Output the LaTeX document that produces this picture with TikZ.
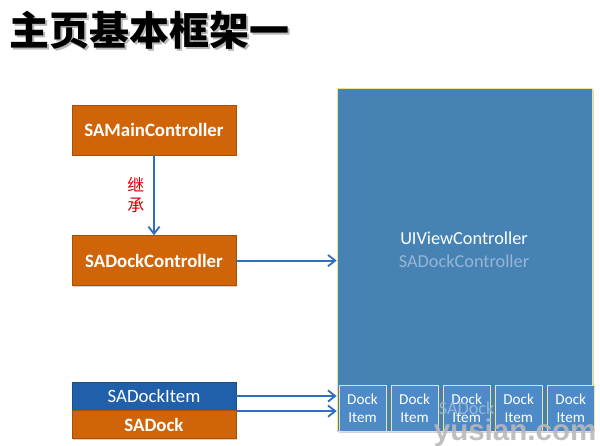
\documentclass[tikz,border=0pt]{standalone}
\usepackage{fontspec}
\setmainfont{Carlito}
\newfontfamily\cjk{Noto Sans CJK SC}
\newfontfamily\wmfont{Liberation Sans}
\usepackage{tikz}
\usetikzlibrary{arrows.meta, positioning, shadows}

\definecolor{boxorange}{RGB}{208,100,8}
\definecolor{itemblue}{RGB}{32,96,170}
\definecolor{viewblue}{RGB}{70,130,180}
\definecolor{dockblue}{RGB}{78,138,200}
\definecolor{paleyellow}{RGB}{238,228,150}
\definecolor{arrowblue}{RGB}{47,111,191}
\definecolor{fadedtext}{RGB}{150,182,212}

\begin{document}
\begin{tikzpicture}[x=0.025cm, y=-0.025cm,
            cls/.style={rectangle, fill=boxorange, draw=boxorange!80!black, thin,
                        minimum width=4.1cm, minimum height=1.25cm, text=white,
                        font=\fontsize{13.4}{16}\selectfont\bfseries,
                        drop shadow={opacity=0.35, shadow xshift=1pt, shadow yshift=-1pt}},
            slim/.style={cls, minimum height=0.7cm},
            view/.style={rectangle, fill=viewblue, draw=paleyellow, thin,
                         minimum width=6.375cm, minimum height=8.575cm,
                         drop shadow={opacity=0.35, shadow xshift=1.5pt, shadow yshift=-1.5pt}},
            dockitem/.style={rectangle, fill=dockblue, draw=paleyellow, thin,
                             minimum width=1.175cm, minimum height=1.15cm, inner sep=0pt,
                             text=white, align=center,
                             font=\fontsize{10.8}{13}\selectfont},
            arr/.style={-{Straight Barb[length=1.8mm, width=2.8mm]}, line width=1.3pt, arrowblue},
            node distance=2cm]
          \useasboundingbox (0,0) rectangle (600,446);
          % title
          \node[anchor=west, text=black!28, font=\cjk\bfseries\fontsize{28.4}{32}\selectfont]
            at (6.8,32.2) {主页基本框架一};
          \node[anchor=west, font=\cjk\bfseries\fontsize{28.4}{32}\selectfont] (title)
            at (5,30.5) {主页基本框架一};
          % left column
          \node[cls] (main) at (154,130) {SAMainController};
          \node[cls, below=of main] (dockctl) {SADockController};
          \node[slim, fill=itemblue, draw=itemblue!80!black, font=\fontsize{13.4}{16}\selectfont]
            (sadockitem) at (154,396) {SADockItem};
          \node[slim, below=0pt of sadockitem] (sadock) {SADock};
          % view controller
          \node[view] (vc) at (464.5,259.5) {};
          \node[text=white, font=\fontsize{13}{15}\selectfont] (vctitle) at (464,238) {UIViewController};
          \node[text=fadedtext, font=\fontsize{13}{15}\selectfont, below=0pt of vctitle] (vcsub) {SADockController};
          % dock bar
          \node[dockitem] (d1) at (362.5,408) {Dock\\ Item};
          \node[dockitem, right=0.1125cm of d1] (d2) {Dock\\ Item};
          \node[dockitem, right=0.1125cm of d2] (d3) {Dock\\ Item};
          \node[dockitem, right=0.1125cm of d3] (d4) {Dock\\ Item};
          \node[dockitem, right=0.1125cm of d4] (d5) {Dock\\ Item};
          \node[text=fadedtext, font=\fontsize{13}{15}\selectfont] (docklabel) at (d3.center) {SADock};
          % connectors
          \draw[arr] (main) -- node[left=3pt, text=red!85!black, align=center,
                                    font=\cjk\fontsize{12}{14}\selectfont] (inherit) {继\\承} (dockctl);
          \draw[arr] (dockctl.east) -- (dockctl.east -| vc.west);
          \draw[arr] (sadockitem.east) -- (sadockitem.east -| vc.west);
          \draw[arr] ([yshift=-0.6pt]sadock.north east) -- ([yshift=-0.6pt]sadock.north east -| vc.west);
          % watermark
          \node[anchor=south east, text=gray!55, opacity=0.9, inner sep=1pt,
                font=\wmfont\bfseries\fontsize{21}{24}\selectfont] (wm) at (598,448) {yusian.com};
        \end{tikzpicture}
\end{document}
